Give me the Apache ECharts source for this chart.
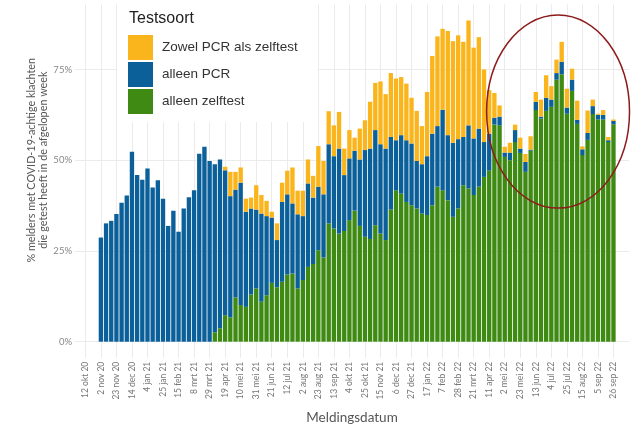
<!DOCTYPE html>
<html>
<head>
<meta charset="utf-8">
<title>Testsoort per week</title>
<script src="https://cdn.jsdelivr.net/npm/echarts@6/dist/echarts.min.js"></script>
<style>
html, body { margin: 0; padding: 0; background: #fff; }
#chartDiv { width: 632px; height: 429px; }
</style>
</head>
<body>
<div id="chartDiv"></div>
<script>
/**
 * 数据: weekly share of reporters (%) per test type, first bar = 2 nov 20
 */
var monthNames = ['jan','feb','mrt','apr','mei','jun','jul','aug','sep','okt','nov','dec'];
var leadWeeks = 5;   // empty weeks before the first bar (28 sep 20 .. 26 okt 20)
var tailWeeks = 3;   // empty weeks after the last bar

var alleenZelftest = [
	0,0,0,0,0,0,0,0,0,0, 0,0,0,0,0,0,0,0,0,0,
	0,0,2.6,3.7,7.3,6.7,12.2,10.1,9.6,13.0, 14.7,11.0,12.8,16.2,15.0,16.5,18.5,18.8,14.7,17.0,
	20.6,21.4,25.2,23.2,32.6,31.2,29.8,30.5,33.5,36.1, 31.9,28.9,28.3,32.1,29.8,28.0,36.4,41.7,40.8,38.5,
	37.6,36.7,35.3,34.9,37.6,42.7,41.7,39.0,34.4,36.7, 43.1,42.2,40.4,42.7,45.4,47.2,59.8,59.6,50.9,50.0,
	55.0,52.0,46.8,52.6,63.8,61.5,63.6,64.7,72.2,73.7, 62.8,69.1,60.0,51.4,55.6,62.7,61.2,61.2,55.0,59.9
];
var alleenPCR = [
	28.7,32.6,33.3,35.2,38.3,40.3,52.3,45.9,44.6,47.7, 42.5,44.5,39.4,31.9,36.1,30.3,36.7,39.8,41.7,51.8,
	53.7,49.8,46.3,46.5,39.9,33.4,29.7,33.7,26.2,23.7, 21.7,24.3,21.8,18.0,13.0,22.0,22.1,19.3,20.4,17.6,
	23.0,18.3,17.5,17.4,21.8,19.9,23.4,15.4,17.0,16.5, 18.3,23.9,24.9,26.2,24.6,25.2,20.0,13.8,16.1,17.0,
	17.0,13.1,13.6,16.2,19.7,16.7,22.2,17.9,20.4,19.1, 13.3,17.4,15.6,16.0,9.6,10.1,1.9,2.4,1.2,2.1,
	3.3,1.2,2.7,0.3,2.3,0.5,3.6,2.0,1.8,3.4, 1.7,3.1,1.1,1.6,1.9,2.2,1.3,1.3,0.5,0.9
];
var zowelBeide = [
	0,0,0,0,0,0,0,0,0,0, 0,0,0,0,0,0,0,0,0,0,
	0,0,0,0,1.0,6.7,4.9,4.2,3.6,3.0, 6.7,5.1,4.2,1.6,4.6,5.3,6.5,9.9,6.5,7.0,
	6.6,6.0,11.2,9.2,9.1,8.5,10.1,7.3,7.8,3.6, 8.5,8.2,12.9,13.0,17.3,15.0,17.6,17.0,16.0,15.6,
	12.6,13.8,10.5,17.7,21.4,24.7,22.3,28.7,28.0,28.6, 26.2,28.9,25.0,25.2,20.0,12.0,6.8,3.1,1.6,2.7,
	1.5,3.0,2.2,3.7,2.7,4.7,6.2,3.7,3.7,5.5, 5.2,3.0,5.3,0.8,6.2,1.8,0.3,1.3,0.9,0.4
];
var yTicks = [0, 25, 50, 75];

var colors = {
	zowel : '#FBB51C',
	pcr : '#0B609A',
	zelf : '#3E8A13'
};

/**
 * weekly categories (mondays), labels like "12 okt 20"
 */
function buildWeeks() {
	var weeks = [];
	var total = leadWeeks + alleenPCR.length + tailWeeks;
	for (var k = 0; k < total; k++) {
		var d = new Date(Date.UTC(2020, 8, 28) + k * 7 * 86400000);
		weeks.push(d.getUTCDate() + ' ' + monthNames[d.getUTCMonth()] + ' ' + String(d.getUTCFullYear()).slice(2));
	}
	return weeks;
}

function pad(arr) {
	var out = [];
	for (var i = 0; i < leadWeeks; i++) out.push(null);
	out = out.concat(arr);
	for (var j = 0; j < tailWeeks; j++) out.push(null);
	return out;
}

// ticks every 3 weeks, from 12 okt 20 (index 2) up to 26 sep 22
function everyThird(index) {
	return index % 3 === 2 && index < leadWeeks + alleenPCR.length;
}

function createChart() {
	var weeks = buildWeeks();
	var myChart = echarts.init(document.getElementById('chartDiv'));
	var gridLeft = 75, gridWidth = 554;
	var lineColor = '#EBEBEB';

	var option = {
		animation : false,
		backgroundColor : '#fff',
		title : {
			text : 'Testsoort',
			left : 129,
			top : 11,
			padding : 0,
			textStyle : { fontFamily : 'Liberation Sans', fontSize : 16, fontWeight : 'normal', color : '#222' }
		},
		legend : {
			data : ['Zowel PCR als zelftest', 'alleen PCR', 'alleen zelftest'],
			orient : 'vertical',
			left : 117,
			top : 0,
			padding : [35, 20, 8, 11],
			backgroundColor : '#fff',
			itemWidth : 25,
			itemHeight : 25,
			itemGap : 2,
			icon : 'rect',
			selectedMode : false,
			textStyle : { fontFamily : 'Liberation Sans', fontSize : 13.5, color : '#333', padding : [0, 0, 0, 4] }
		},
		grid : [
			{ left : gridLeft, width : gridWidth, top : -21.3, height : 363, outerBoundsMode : 'none' },
			{ left : gridLeft, width : gridWidth, top : 4.5, height : 353.2, outerBoundsMode : 'none' }
		],
		xAxis : [{
			gridIndex : 0,
			type : 'category',
			data : weeks,
			boundaryGap : false,
			show : false
		}, {
			gridIndex : 1,
			type : 'category',
			data : weeks,
			boundaryGap : false,
			axisLine : { show : false },
			axisTick : { show : false },
			splitLine : { show : true, interval : function (i) { return everyThird(i); }, lineStyle : { color : lineColor, width : 1 } },
			axisLabel : {
				interval : function (i) { return everyThird(i); },
				rotate : 90,
				margin : 4,
				fontFamily : 'Lato',
				fontSize : 8.5,
				color : '#777'
			},
			name : 'Meldingsdatum',
			nameLocation : 'middle',
			nameGap : 53,
			nameMoveOverlap : false,
			nameTextStyle : { fontFamily : 'Lato', fontSize : 13.5, color : '#555' }
		}],
		yAxis : [{
			gridIndex : 0,
			type : 'value',
			min : 0,
			max : 100,
			interval : 25,
			axisLine : { show : false },
			axisTick : { show : false },
			splitLine : { lineStyle : { color : lineColor, width : 1 } },
			axisLabel : {
				margin : 3,
				fontFamily : 'Lato',
				fontSize : 9.5,
				color : '#888',
				formatter : function (v) { return yTicks.indexOf(v) >= 0 ? v + '%' : ''; }
			},
			name : '% melders met COVID-19-achtige klachten\ndie getest heeft in de afgelopen week',
			nameLocation : 'middle',
			nameGap : 25,
			nameMoveOverlap : false,
			nameTextStyle : { fontFamily : 'Lato', fontSize : 10.8, lineHeight : 12.5, color : '#555' }
		}, {
			gridIndex : 1,
			type : 'value',
			show : false
		}],
		series : [{
			name : 'alleen zelftest',
			type : 'bar',
			stack : 'testen',
			barCategoryGap : '16%',
			itemStyle : { color : colors.zelf },
			data : pad(alleenZelftest)
		}, {
			name : 'alleen PCR',
			type : 'bar',
			stack : 'testen',
			barCategoryGap : '16%',
			itemStyle : { color : colors.pcr },
			data : pad(alleenPCR)
		}, {
			name : 'Zowel PCR als zelftest',
			type : 'bar',
			stack : 'testen',
			barCategoryGap : '16%',
			itemStyle : { color : colors.zowel },
			data : pad(zowelBeide)
		}]
	};
	myChart.setOption(option);

	// red annotation ellipse around the summer 2022 weeks (data coordinates)
	var ci = leadWeeks + 88;
	var p0 = myChart.convertToPixel({ xAxisIndex : 0, yAxisIndex : 0 }, [ci, 63.4]);
	var p1 = myChart.convertToPixel({ xAxisIndex : 0, yAxisIndex : 0 }, [ci + 1, 63.4 + 26.6]);
	var step = p1[0] - p0[0];
	myChart.setOption({
		graphic : [{
			type : 'ellipse',
			z : 100,
			shape : { cx : p0[0] + 0.3 * step, cy : p0[1], rx : 13.8 * step, ry : p0[1] - p1[1] },
			style : { fill : null, stroke : '#8E1B1B', lineWidth : 1.5 }
		}]
	});
}

createChart();
</script>
</body>
</html>
